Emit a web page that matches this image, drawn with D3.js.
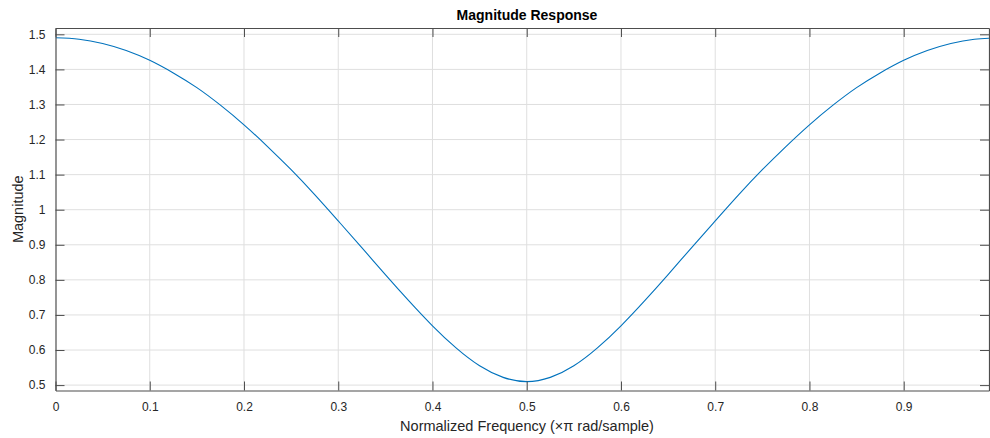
<!DOCTYPE html>
<html>
<head>
<meta charset="utf-8">
<script src="https://cdn.jsdelivr.net/npm/d3@7"></script>
<style>
  html, body { margin: 0; padding: 0; background: #fff; }
  svg { display: block; font-family: "Liberation Sans", Arial, sans-serif; }
  .tick text { fill: #262626; font-size: 12px; }
</style>
</head>
<body>
<svg id="chart" width="990" height="438"></svg>
<script>
// Normalized frequency (x pi rad/sample) and magnitude
const freq = [
  0, 0.025, 0.05, 0.075, 0.1, 0.125, 0.15, 0.175, 0.2, 0.225,
  0.25, 0.275, 0.3, 0.325, 0.35, 0.375, 0.4, 0.425, 0.45, 0.475,
  0.5, 0.525, 0.55, 0.575, 0.6, 0.625, 0.65, 0.675, 0.7, 0.725,
  0.75, 0.775, 0.8, 0.825, 0.85, 0.875, 0.9, 0.925, 0.95, 0.975, 1.0
];
const magnitude = [
  1.490, 1.486, 1.474, 1.454, 1.426, 1.390, 1.348, 1.298, 1.242, 1.180,
  1.114, 1.043, 0.968, 0.892, 0.815, 0.740, 0.669, 0.606, 0.555, 0.522,
  0.510, 0.522, 0.555, 0.606, 0.669, 0.740, 0.815, 0.892, 0.968, 1.043,
  1.114, 1.180, 1.242, 1.298, 1.348, 1.390, 1.426, 1.454, 1.474, 1.486, 1.490
];
const xTicks = [0, 0.1, 0.2, 0.3, 0.4, 0.5, 0.6, 0.7, 0.8, 0.9];
const yTicks = [0.5, 0.6, 0.7, 0.8, 0.9, 1, 1.1, 1.2, 1.3, 1.4, 1.5];

const margin = { top: 28, right: 1, bottom: 47.5, left: 55.5 };
const W = 990, H = 438;
const width = W - margin.left - margin.right;
const height = H - margin.top - margin.bottom;

const svg = d3.select("#chart");
const g = svg.append("g").attr("transform", `translate(${margin.left},${margin.top})`);

const x = d3.scaleLinear().domain([0, 0.9905]).range([0, width]);
const y = d3.scaleLinear().domain([0.4846, 1.518]).range([height, 0]);

const axisColor = "#4d4d4d";
const tickLen = 9;

// grid
g.append("g").selectAll("line").data(xTicks.slice(1)).join("line")
  .attr("x1", d => x(d)).attr("x2", d => x(d))
  .attr("y1", 0).attr("y2", height)
  .attr("stroke", "#dfdfdf").attr("stroke-width", 1);
g.append("g").selectAll("line").data(yTicks).join("line")
  .attr("x1", 0).attr("x2", width)
  .attr("y1", d => y(d)).attr("y2", d => y(d))
  .attr("stroke", "#dfdfdf").attr("stroke-width", 1);

// curve
g.append("clipPath").attr("id", "clip")
  .append("rect").attr("width", width).attr("height", height);
const line = d3.line()
  .x((d, i) => x(freq[i]))
  .y(d => y(d))
  .curve(d3.curveNatural);
g.append("path")
  .datum(magnitude)
  .attr("clip-path", "url(#clip)")
  .attr("fill", "none")
  .attr("stroke", "#0072BD")
  .attr("stroke-width", 1.1)
  .attr("d", line);

// axes (MATLAB-style inward ticks on all four sides)
function styleAxis(sel) {
  sel.select(".domain").attr("stroke", axisColor);
  sel.selectAll(".tick line").attr("stroke", axisColor);
}
g.append("g").attr("transform", `translate(0,${height})`)
  .call(d3.axisBottom(x).tickValues(xTicks).tickSizeInner(-tickLen).tickSizeOuter(0)
    .tickPadding(12).tickFormat(d3.format("")))
  .call(styleAxis);
g.append("g")
  .call(d3.axisTop(x).tickValues(xTicks).tickSizeInner(-tickLen).tickSizeOuter(0).tickFormat(""))
  .call(styleAxis);
g.append("g")
  .call(d3.axisLeft(y).tickValues(yTicks).tickSizeInner(-tickLen).tickSizeOuter(0)
    .tickPadding(10).tickFormat(d3.format("")))
  .call(styleAxis);
g.append("g").attr("transform", `translate(${width},0)`)
  .call(d3.axisRight(y).tickValues(yTicks).tickSizeInner(-tickLen).tickSizeOuter(0).tickFormat(""))
  .call(styleAxis);
g.selectAll(".domain").attr("stroke-width", 1.2);

// title and labels
svg.append("text")
  .attr("x", 527).attr("y", 20)
  .attr("text-anchor", "middle")
  .attr("font-weight", "bold").attr("font-size", 14)
  .attr("fill", "#000")
  .text("Magnitude Response");
svg.append("text")
  .attr("x", 527).attr("y", 431)
  .attr("text-anchor", "middle")
  .attr("font-size", 14.5).attr("fill", "#262626")
  .text("Normalized Frequency (\u00d7\u03c0 rad/sample)");
svg.append("text")
  .attr("transform", `translate(23,${margin.top + height / 2}) rotate(-90)`)
  .attr("text-anchor", "middle")
  .attr("font-size", 14.5).attr("fill", "#262626")
  .text("Magnitude");
</script>
</body>
</html>
